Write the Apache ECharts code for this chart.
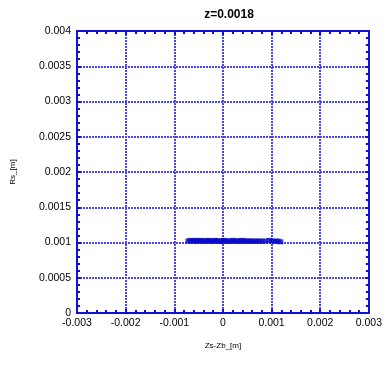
<!DOCTYPE html>
<html>
<head>
<meta charset="utf-8">
<script src="https://cdn.jsdelivr.net/npm/echarts@6/dist/echarts.min.js"></script>
<style>
html,body{margin:0;padding:0;background:#fff;}
#c{width:385px;height:367px;}
</style>
</head>
<body>
<div id="c"></div>
<script>
// Particle positions: longitudinal offset Zs-Zb and radius Rs, both in metres
const zsOffsets = [
  -0.00071, -0.00067, -0.00063, -0.00060, -0.00056, -0.00052, -0.00049, -0.00045,
  -0.00041, -0.00038, -0.00034, -0.00030, -0.00027, -0.00023, -0.00019, -0.00016,
  -0.00012, -0.00008, -0.00005, -0.00001, 0.00002, 0.00006, 0.00010, 0.00013,
  0.00017, 0.00021, 0.00024, 0.00028, 0.00032, 0.00035, 0.00039, 0.00043,
  0.00047, 0.00051, 0.00055, 0.00059, 0.00064, 0.00069, 0.00074, 0.00080,
  0.00087, 0.00095, 0.00101, 0.00108, 0.00113, 0.00118
];
const rsValues = [
  0.00102, 0.00103, 0.00102, 0.00102, 0.00103, 0.00102, 0.00102, 0.00103,
  0.00102, 0.00102, 0.00102, 0.00103, 0.00102, 0.00102, 0.00102, 0.00103,
  0.00102, 0.00102, 0.00102, 0.00102, 0.00103, 0.00102, 0.00102, 0.00102,
  0.00102, 0.00103, 0.00102, 0.00102, 0.00102, 0.00102, 0.00103, 0.00102,
  0.00102, 0.00102, 0.00102, 0.00102, 0.00102, 0.00102, 0.00102, 0.00102,
  0.00102, 0.00103, 0.00102, 0.00102, 0.00102, 0.00101
];
const titleText = 'z=0.0018';
const xName = 'Zs-Zb_[m]';
const yName = 'Rs_[m]';

const points = zsOffsets.map((z, i) => [z, rsValues[i]]);

const blue = '#1010d8';
const gridLine = { show: true, lineStyle: { color: '#4848e4', width: 2, type: [2, 1] } };
const font = 'Liberation Sans, Arial, sans-serif';

function fmt(v) {
  if (v === 0) return '0';
  return String(parseFloat(v.toPrecision(6)));
}

function frameAxis(extra) {
  return Object.assign({
    type: 'value',
    axisLine: { show: true, onZero: false, lineStyle: { color: blue, width: 2 } },
    axisTick: { show: true, inside: true, length: 4, lineStyle: { color: blue, width: 2 } },
    minorTick: { show: true, splitNumber: 5, length: 3, lineStyle: { color: blue, width: 2 } },
    axisLabel: { show: false },
    splitLine: { show: false }
  }, extra);
}

const chart = echarts.init(document.getElementById('c'), null, { renderer: 'canvas' });
chart.setOption({
  animation: false,
  title: {
    text: titleText,
    left: 224, top: 4, textAlign: 'center',
    textStyle: { fontFamily: font, fontSize: 12, fontWeight: 'bold', color: '#000' }
  },
  grid: { left: 77, right: 12, top: 31, bottom: 54, containLabel: false },
  xAxis: [
    frameAxis({
      min: -0.003, max: 0.003, interval: 0.001,
      name: xName, nameLocation: 'middle', nameGap: 29,
      nameTextStyle: { fontFamily: font, fontSize: 8, color: '#000' },
      axisLabel: { fontFamily: font, fontSize: 10.5, color: '#000', margin: 5, formatter: fmt },
      splitLine: gridLine
    }),
    frameAxis({ position: 'top', min: -0.003, max: 0.003, interval: 0.001 })
  ],
  yAxis: [
    frameAxis({
      min: 0, max: 0.004, interval: 0.0005,
      name: yName, nameLocation: 'middle', nameGap: 60,
      nameTextStyle: { fontFamily: font, fontSize: 8, color: '#000' },
      axisLabel: { fontFamily: font, fontSize: 10.5, color: '#000', margin: 6, formatter: fmt },
      splitLine: gridLine
    }),
    frameAxis({ position: 'right', min: 0, max: 0.004, interval: 0.0005 })
  ],
  series: [{
    type: 'scatter',
    data: points,
    symbol: 'rect',
    symbolSize: [6, 5],
    itemStyle: { color: '#0a0ac8' },
    z: 5
  }]
});
</script>
</body>
</html>
